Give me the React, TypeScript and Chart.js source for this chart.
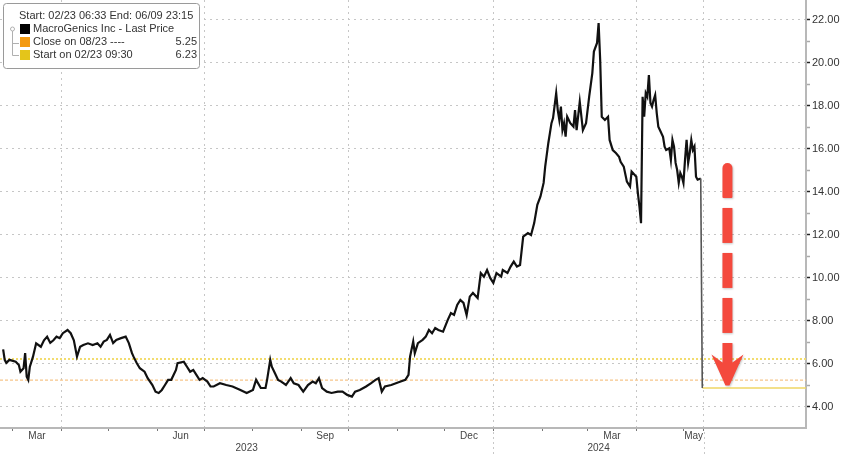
import { useEffect, useRef } from 'react';
import { Chart, registerables } from 'chart.js';

Chart.register(...registerables);

// ---------- data ----------
const START_DATE = '2023-02-23';
// days since START_DATE
const DAYS = [
  0, 1, 2, 4, 8, 10, 11, 13, 14, 15, 16, 17, 19, 21, 24, 26, 28, 30, 32, 34, 36, 38, 41, 43, 45, 47, 49, 51, 54, 57,
  60, 62, 64, 66, 68, 70, 72, 75, 78, 80, 82, 83, 85, 87, 90, 92, 95, 97, 99, 101, 103, 105, 107, 110, 111, 115, 117,
  119, 121, 123, 125, 127, 130, 132, 134, 138, 142, 146, 151, 155, 159, 161, 164, 167, 168, 170, 171, 173, 175, 177,
  180, 183, 185, 188, 191, 194, 197, 199, 201, 203, 206, 209, 213, 216, 219, 222, 224, 227, 231, 234, 237, 239, 241,
  243, 247, 250, 253, 256, 258, 259, 261, 262, 264, 267, 269, 271, 273, 275, 277, 280, 283, 285, 287, 289, 291, 293,
  295, 297, 299, 302, 304, 306, 308, 310, 312, 314, 317, 318, 321, 323, 325, 327, 329, 331, 334, 336, 338, 340, 342,
  344, 345, 347, 348, 349, 350, 352, 353, 354, 355, 356, 357, 358, 359, 361, 363, 364, 365, 367, 369, 371, 373, 375,
  376, 378, 379, 380, 381, 383, 385, 386, 388, 390, 392, 393, 395, 397, 399, 400, 403, 404, 405, 406, 407, 408, 409,
  410, 411, 412, 413, 414, 415, 416, 417, 418, 420, 421, 422, 424, 425, 426, 427, 428, 429, 430, 431, 432, 433, 434,
  435, 436, 437, 438, 439, 440, 441, 442, 444, 445,
];
const PRICE = [
  6.68, 6.19, 6.05, 6.19, 6.1, 5.95, 5.64, 5.8, 6.5, 5.41, 5.26, 5.87, 6.34, 6.96, 6.8, 7.1, 7.27, 6.98, 7.1, 7.27, 7.2,
  7.43, 7.58, 7.43, 7.1, 6.34, 6.8, 6.88, 6.96, 6.88, 6.96, 6.8, 7.04, 7.12, 7.35, 6.97, 7.12, 7.2, 7.27, 6.97, 6.5,
  6.34, 6.04, 5.8, 5.64, 5.34, 5.02, 4.71, 4.65, 4.79, 5.02, 5.26, 5.26, 5.72, 6.04, 6.1, 5.87, 5.64, 5.72, 5.49, 5.26,
  5.34, 5.18, 4.95, 4.95, 5.1, 5.02, 4.95, 4.79, 4.65, 4.79, 5.26, 4.88, 4.88, 5.26, 6.19, 5.87, 5.57, 5.26, 5.18,
  5.02, 5.34, 5.1, 5.02, 4.71, 5.02, 5.18, 5.1, 5.34, 4.88, 4.71, 4.65, 4.71, 4.71, 4.56, 4.48, 4.71, 4.79, 4.95, 5.1,
  5.26, 5.34, 4.71, 4.95, 5.02, 5.1, 5.18, 5.26, 5.49, 6.34, 7.04, 6.5, 6.97, 7.12, 7.27, 7.58, 7.43, 7.67, 7.58, 7.5,
  8.05, 8.37, 8.28, 8.74, 8.98, 8.84, 8.28, 9.13, 9.3, 9.07, 10.23, 10.06, 10.37, 10.0, 9.77, 10.23, 10.06, 10.37,
  10.23, 10.53, 10.76, 10.53, 10.6, 11.92, 12.09, 12.0, 12.55, 13.4, 13.79, 14.42, 15.18, 16.28, 16.74, 17.2, 17.44,
  18.6, 17.81, 17.35, 17.97, 16.88, 17.2, 16.57, 17.5, 17.2, 17.04, 17.81, 16.88, 18.2, 16.88, 17.2, 18.43, 19.53,
  20.53, 20.93, 21.86, 20.14, 17.5, 17.35, 17.5, 16.42, 15.95, 15.81, 15.64, 15.4, 15.18, 14.48, 14.25, 14.95, 14.71,
  13.95, 13.32, 12.55, 18.43, 17.5, 18.6, 18.43, 19.44, 18.14, 17.97, 18.28, 18.51, 17.67, 17.04, 16.88, 16.57, 16.11,
  15.95, 16.03, 15.49, 16.42, 16.11, 15.35, 15.02, 14.42, 14.88, 14.71, 14.42, 15.49, 16.42, 15.35, 15.81, 16.42,
  15.95, 16.11, 14.71, 14.57, 14.63, 4.88,
];

const CLOSE_0823 = 5.25;
const START_0223 = 6.23;
const LAST_PRICE = 4.88;

const X_MIN_DATE = '2023-02-21';
const X_MAX_DATE = '2024-07-18';
const DATA_END_DATE = '2024-05-14';

const MONTH_STARTS = [
  '2023-03-01', '2023-04-01', '2023-05-01', '2023-06-01', '2023-07-01', '2023-08-01', '2023-09-01', '2023-10-01',
  '2023-11-01', '2023-12-01', '2024-01-01', '2024-02-01', '2024-03-01', '2024-04-01', '2024-05-01',
];
const GRID_DATES = ['2023-04-01', '2023-07-01', '2023-10-01', '2024-01-01', '2024-04-01', DATA_END_DATE];
const MONTH_LABELS = ['Mar', 'Jun', 'Sep', 'Dec', 'Mar', 'May'];
const MONTH_LABEL_SPANS = [
  ['2023-03-01', '2023-04-01'],
  ['2023-06-01', '2023-07-01'],
  ['2023-09-01', '2023-10-01'],
  ['2023-12-01', '2024-01-01'],
  ['2024-03-01', '2024-04-01'],
  ['2024-05-01', DATA_END_DATE],
];
const YEAR_LABELS = ['2023', '2024'];
const YEAR_SPANS = [
  [X_MIN_DATE, '2024-01-01'],
  ['2024-01-01', DATA_END_DATE],
];
const YEAR_BREAKS = ['2024-01-01', DATA_END_DATE];

const Y_MIN = 3.02;
const Y_MAX = 22.93;
const Y_TICKS = [4, 5, 6, 7, 8, 9, 10, 11, 12, 13, 14, 15, 16, 17, 18, 19, 20, 21, 22];

const ARROW_DATE = '2024-05-29';
const ARROW_FROM = 15.35;
const ARROW_TO = 5.0;

const LEGEND_HEADER = 'Start: 02/23 06:33 End: 06/09 23:15';
const LEGEND_ROWS = [
  { label: 'MacroGenics Inc - Last Price', value: '', color: '#000000' },
  { label: 'Close on 08/23 ----', value: '5.25', color: '#f39a12' },
  { label: 'Start on 02/23 09:30', value: '6.23', color: '#e4c51a' },
];

// ---------- helpers ----------
const dayOf = (s: string) => Math.round((Date.parse(s) - Date.parse(START_DATE)) / 86400000);
const FONT = '"Liberation Sans", Arial, sans-serif';

const overlayPlugin = {
  id: 'overlay',
  afterDraw(chart: any) {
    const { ctx, chartArea, scales } = chart;
    const x = scales.x;
    const y = scales.y;
    const H = chart.height;
    ctx.save();

    // month & year labels
    ctx.font = `10px ${FONT}`;
    ctx.fillStyle = '#444';
    ctx.textAlign = 'center';
    ctx.textBaseline = 'middle';
    MONTH_LABELS.forEach((lab, i) => {
      const [a, b] = MONTH_LABEL_SPANS[i];
      const px = (x.getPixelForValue(dayOf(a)) + x.getPixelForValue(dayOf(b))) / 2;
      ctx.fillText(lab, px, chartArea.bottom + 8);
    });
    YEAR_LABELS.forEach((lab, i) => {
      const [a, b] = YEAR_SPANS[i];
      const px = (x.getPixelForValue(dayOf(a)) + x.getPixelForValue(dayOf(b))) / 2;
      ctx.fillText(lab, px, chartArea.bottom + 20);
    });

    // year separators below axis
    ctx.strokeStyle = '#c8c8c8';
    ctx.lineWidth = 1;
    ctx.setLineDash([2, 3]);
    YEAR_BREAKS.forEach((d) => {
      const px = Math.round(x.getPixelForValue(dayOf(d))) + 0.5;
      ctx.beginPath();
      ctx.moveTo(px, chartArea.bottom + 4);
      ctx.lineTo(px, H);
      ctx.stroke();
    });
    ctx.setLineDash([]);

    // red dashed arrow
    const cx = x.getPixelForValue(dayOf(ARROW_DATE));
    const yTop = y.getPixelForValue(ARROW_FROM);
    const yTip = y.getPixelForValue(ARROW_TO);
    const shaftW = 10;
    const headW = 32;
    const headL = 31;
    const headTop = yTip - headL;
    const dash = 35;
    const gap = 10;
    ctx.fillStyle = '#f4493d';
    ctx.shadowColor = 'rgba(0,0,0,0.22)';
    ctx.shadowBlur = 2;
    ctx.shadowOffsetX = 1;
    ctx.shadowOffsetY = 1;
    for (let s = yTop, k = 0; k < 20; s += dash + gap, k++) {
      if (s + dash < headTop) {
        ctx.beginPath();
        if (k === 0) ctx.roundRect(cx - shaftW / 2, s, shaftW, dash, [5, 5, 1, 1]);
        else ctx.rect(cx - shaftW / 2, s, shaftW, dash);
        ctx.fill();
      } else {
        ctx.beginPath();
        ctx.moveTo(cx - shaftW / 2, s);
        ctx.lineTo(cx + shaftW / 2, s);
        ctx.lineTo(cx + shaftW / 2, headTop + 8);
        ctx.lineTo(cx + headW / 2, headTop);
        ctx.lineTo(cx + 2, yTip);
        ctx.lineTo(cx - 2, yTip);
        ctx.lineTo(cx - headW / 2, headTop);
        ctx.lineTo(cx - shaftW / 2, headTop + 8);
        ctx.closePath();
        ctx.fill();
        break;
      }
    }
    ctx.shadowColor = 'transparent';
    ctx.shadowBlur = 0;
    ctx.shadowOffsetX = 0;
    ctx.shadowOffsetY = 0;

    // legend box
    const bx = 3.5;
    const by = 3.5;
    const bw = 196;
    const bh = 65;
    ctx.fillStyle = '#ffffff';
    ctx.strokeStyle = '#9a9a9a';
    ctx.lineWidth = 1;
    ctx.beginPath();
    ctx.roundRect(bx, by, bw, bh, 3);
    ctx.fill();
    ctx.stroke();

    ctx.font = `11px ${FONT}`;
    ctx.fillStyle = '#333';
    ctx.textAlign = 'left';
    ctx.textBaseline = 'middle';
    ctx.fillText(LEGEND_HEADER, 19, 16);

    // tree connector
    ctx.strokeStyle = '#b0b0b0';
    ctx.beginPath();
    ctx.arc(12.5, 29, 2, 0, Math.PI * 2);
    ctx.stroke();
    ctx.beginPath();
    ctx.moveTo(12.5, 31);
    ctx.lineTo(12.5, 55.5);
    ctx.moveTo(12.5, 43.5);
    ctx.lineTo(19, 43.5);
    ctx.moveTo(12.5, 55.5);
    ctx.lineTo(19, 55.5);
    ctx.stroke();

    LEGEND_ROWS.forEach((r, i) => {
      const cy = 29 + i * 13;
      ctx.fillStyle = r.color;
      ctx.fillRect(20, cy - 5, 10, 10);
      ctx.fillStyle = '#333';
      ctx.textAlign = 'left';
      ctx.fillText(r.label, 33, cy);
      if (r.value) {
        ctx.textAlign = 'right';
        ctx.fillText(r.value, 197, cy);
      }
    });

    ctx.restore();
  },
};

export default function App() {
  const ref = useRef<HTMLCanvasElement | null>(null);

  useEffect(() => {
    if (!ref.current) return;
    const xMin = dayOf(X_MIN_DATE);
    const xMax = dayOf(X_MAX_DATE);
    const lastIdx = DAYS.length - 1;
    const gridSet = new Set(GRID_DATES.map(dayOf));
    const tickDays = [...MONTH_STARTS.map(dayOf), dayOf(DATA_END_DATE)];
    const lastDay = DAYS[lastIdx];

    const chart = new Chart(ref.current, {
      type: 'line',
      data: {
        datasets: [
          {
            label: 'MacroGenics Inc - Last Price',
            data: DAYS.map((d, i) => ({ x: d, y: PRICE[i] })),
            borderColor: '#111111',
            borderWidth: 2.2,
            pointRadius: 0,
            tension: 0,
            order: 0,
            segment: {
              borderColor: (c: any) => (c.p1DataIndex === lastIdx ? '#555555' : undefined),
              borderWidth: (c: any) => (c.p1DataIndex === lastIdx ? 1.6 : undefined),
            },
          },
          {
            label: 'Start on 02/23 09:30',
            data: [
              { x: xMin, y: START_0223 },
              { x: xMax, y: START_0223 },
            ],
            borderColor: '#f2dc6e',
            borderWidth: 2,
            borderDash: [2, 2],
            pointRadius: 0,
            order: 2,
          },
          {
            label: 'Close on 08/23',
            data: [
              { x: xMin, y: CLOSE_0823 },
              { x: xMax, y: CLOSE_0823 },
            ],
            borderColor: '#f6c58a',
            borderWidth: 1.3,
            borderDash: [3, 2],
            pointRadius: 0,
            order: 3,
          },
          {
            label: 'Last',
            data: [
              { x: lastDay, y: LAST_PRICE },
              { x: xMax, y: LAST_PRICE },
            ],
            borderColor: '#efd665',
            borderWidth: 1.6,
            pointRadius: 0,
            order: 1,
          },
        ],
      },
      options: {
        responsive: false,
        animation: false,
        events: [],
        layout: { padding: 0 },
        plugins: { legend: { display: false }, tooltip: { enabled: false } },
        scales: {
          x: {
            type: 'linear',
            min: xMin,
            max: xMax,
            afterBuildTicks: (s: any) => {
              s.ticks = tickDays.map((v) => ({ value: v }));
            },
            afterFit: (s: any) => {
              s.height = 26;
              s.paddingLeft = 0;
              s.paddingRight = 0;
            },
            ticks: { display: false },
            grid: {
              color: (c: any) => (c.tick && gridSet.has(c.tick.value) ? '#c6c6c6' : 'rgba(0,0,0,0)'),
              tickColor: '#777777',
              tickLength: 3,
              lineWidth: 1,
            },
            border: { display: true, color: '#b8b8b8', width: 2, dash: [2, 4] },
          },
          y: {
            type: 'linear',
            position: 'right',
            min: Y_MIN,
            max: Y_MAX,
            afterBuildTicks: (s: any) => {
              s.ticks = Y_TICKS.map((v) => ({ value: v }));
            },
            afterFit: (s: any) => {
              s.width = 42;
              s.paddingTop = 0;
              s.paddingBottom = 0;
            },
            ticks: {
              callback: (v: any) => (Number(v) % 2 === 0 ? Number(v).toFixed(2) : ''),
              color: '#333333',
              font: { family: FONT, size: 11 },
              padding: 2,
            },
            grid: {
              color: (c: any) => (c.tick && c.tick.value % 2 === 0 ? '#c6c6c6' : 'rgba(0,0,0,0)'),
              tickColor: (c: any) => (c.tick && c.tick.value % 2 === 0 ? '#222222' : '#aaaaaa'),
              tickLength: 4,
              tickWidth: 1.5,
              lineWidth: 1,
            },
            border: { display: true, color: '#b8b8b8', width: 2, dash: [2, 4] },
          },
        },
      },
      plugins: [overlayPlugin],
    });
    return () => chart.destroy();
  }, []);

  return (
    <div style={{ position: 'fixed', left: 0, top: 0, width: 848, height: 454, background: '#fff' }}>
      <canvas ref={ref} width={848} height={454} style={{ display: 'block' }} />
    </div>
  );
}
